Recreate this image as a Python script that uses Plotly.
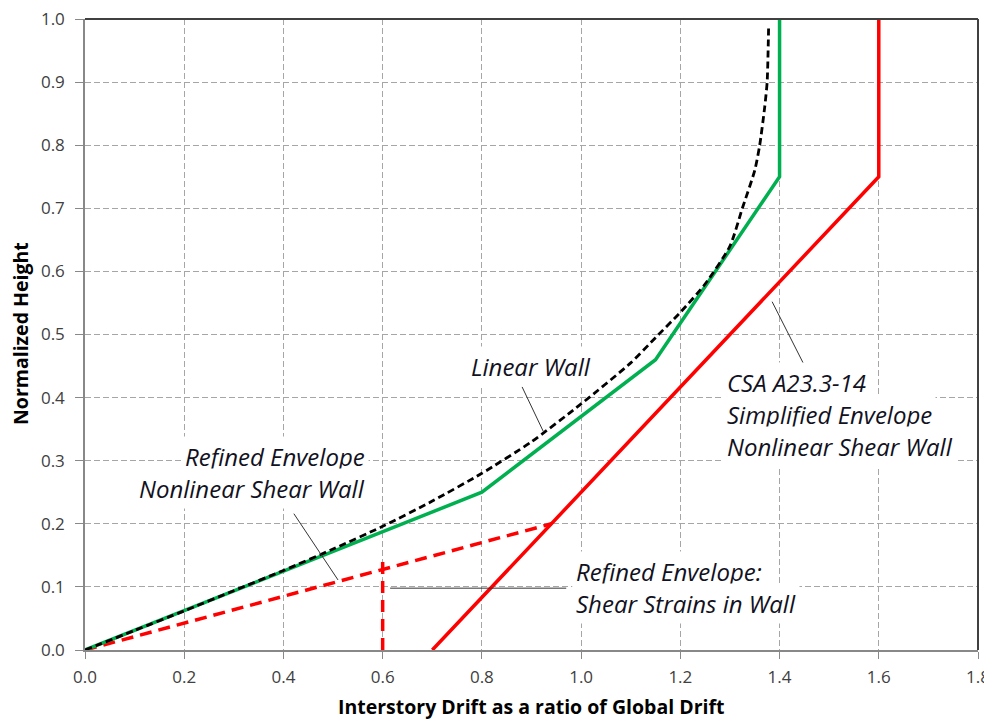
import plotly.graph_objects as go

# ---- data ----
linear_x = [0, 0.1, 0.2, 0.3, 0.4, 0.5, 0.6, 0.7, 0.8, 0.9, 1.0, 1.1, 1.15, 1.2, 1.25, 1.3, 1.325, 1.35, 1.36, 1.37, 1.375, 1.378]
linear_y = [0, 0.031, 0.062, 0.094, 0.126, 0.16, 0.196, 0.236, 0.28, 0.33, 0.39, 0.455, 0.495, 0.535, 0.58, 0.64, 0.70, 0.76, 0.80, 0.86, 0.90, 0.99]

refined_x = [0, 0.8, 1.15, 1.4, 1.4]
refined_y = [0, 0.25, 0.46, 0.75, 1.0]

csa_x = [0.7, 1.6, 1.6]
csa_y = [0, 0.75, 1.0]

shear_x = [0, 0.94]
shear_y = [0, 0.2]
shear_v_x = [0.6, 0.6]
shear_v_y = [0, 0.15]

x_ticks = [0.0, 0.2, 0.4, 0.6, 0.8, 1.0, 1.2, 1.4, 1.6, 1.8]
y_ticks = [0.0, 0.1, 0.2, 0.3, 0.4, 0.5, 0.6, 0.7, 0.8, 0.9, 1.0]

GREEN = "#00B050"
RED = "#FF0000"

fig = go.Figure()
fig.add_trace(go.Scatter(x=shear_x, y=shear_y, mode="lines",
                         line=dict(color=RED, width=3.5, dash="12px,7px")))
fig.add_trace(go.Scatter(x=shear_v_x, y=shear_v_y, mode="lines",
                         line=dict(color=RED, width=3.5, dash="12px,7px")))
fig.add_trace(go.Scatter(x=csa_x, y=csa_y, mode="lines",
                         line=dict(color=RED, width=3.5)))
fig.add_trace(go.Scatter(x=refined_x, y=refined_y, mode="lines",
                         line=dict(color=GREEN, width=3.5)))
fig.add_trace(go.Scatter(x=linear_x, y=linear_y, mode="lines",
                         line=dict(color="black", width=2.8, dash="7px,4px", shape="spline", smoothing=0.6)))

tickfont = dict(family="Open Sans", size=17, color="#404040")
fig.update_xaxes(range=[0, 1.8], tickvals=x_ticks, ticktext=[f"{v:.1f}" for v in x_ticks],
                 showgrid=True, gridcolor="#A6A6A6", griddash="6px,3px", gridwidth=1,
                 showline=True, linecolor="#888888", linewidth=1.5,
                 ticks="outside", ticklen=7, tickcolor="#888888", automargin=False,
                 ticklabeloverflow="allow",
                 ticklabelstandoff=4, tickfont=tickfont, zeroline=False)
fig.update_yaxes(range=[0, 1.0], tickvals=y_ticks, ticktext=[f"{v:.1f}" for v in y_ticks],
                 showgrid=True, gridcolor="#A6A6A6", griddash="6px,3px", gridwidth=1,
                 showline=True, linecolor="#888888", linewidth=1.5,
                 ticks="outside", ticklen=8, tickcolor="#888888", automargin=False,
                 ticklabeloverflow="allow",
                 ticklabelstandoff=7, tickfont=tickfont, zeroline=False)

shapes = [
    dict(type="line", xref="x domain", yref="y domain", x0=0, x1=1, y0=1, y1=1, line=dict(color="#404040", width=2)),
    dict(type="line", xref="x domain", yref="y domain", x0=1, x1=1, y0=0, y1=1, line=dict(color="#404040", width=2)),
    # leader lines
    dict(type="line", xref="x", yref="y", x0=0.881, y0=0.417, x1=0.924, y1=0.346, line=dict(color="#333333", width=1)),
    dict(type="line", xref="x", yref="y", x0=0.421, y0=0.216, x1=0.510, y1=0.111, line=dict(color="#333333", width=1)),
    dict(type="line", xref="x", yref="y", x0=1.385, y0=0.552, x1=1.452, y1=0.448, line=dict(color="#333333", width=1)),
    dict(type="line", xref="x", yref="y", x0=0.615, y0=0.098, x1=0.970, y1=0.098, line=dict(color="#333333", width=1)),
]

afont = dict(family="Open Sans", size=24, color="#111122", style="italic")
annotations = []

def add_lines(lines, x, y_top, xanchor, dy=32):
    for i, t in enumerate(lines):
        annotations.append(dict(text=f"<i>{t}</i>", x=x, y=y_top, xref="x", yref="y",
                                xanchor=xanchor, yanchor="middle", yshift=-i * dy,
                                showarrow=False, font=afont, bgcolor="white", borderpad=3))

add_lines(["Linear Wall"], 0.899, 0.450, "center")
add_lines(["Refined Envelope", "Nonlinear Shear Wall"], 0.573, 0.307, "right")
add_lines(["CSA A23.3-14", "Simplified Envelope", "Nonlinear Shear Wall"], 1.286, 0.424, "left")
add_lines(["Refined Envelope:", "Shear Strains in Wall"], 0.982, 0.125, "left")

# page body has an 8px margin; compensate so the plot sits where the reference does
OFF = 8
W, H = 992 - OFF, 721 - OFF
ml, mr, mt, mb = 85 - OFF, 14, 19 - OFF, 71
pw, ph = W - ml - mr, H - mt - mb

def px_to_paper(px, py):
    fx, fy = px - OFF, py - OFF
    return (fx - ml) / pw, (H - fy - mb) / ph

tx, ty = px_to_paper(531, 706)
annotations.append(dict(text="<b>Interstory Drift as a ratio of Global Drift</b>", x=tx, y=ty,
                        xref="paper", yref="paper", xanchor="center", yanchor="middle", showarrow=False,
                        font=dict(family="Open Sans", size=19.5, color="black")))
tx, ty = px_to_paper(20, 334)
annotations.append(dict(text="<b>Normalized Height</b>", x=tx, y=ty, textangle=-90,
                        xref="paper", yref="paper", xanchor="center", yanchor="middle", showarrow=False,
                        font=dict(family="Open Sans", size=19.5, color="black")))

fig.update_layout(width=W, height=H, margin=dict(l=ml, r=mr, t=mt, b=mb),
                  plot_bgcolor="white", paper_bgcolor="white", showlegend=False,
                  shapes=shapes, annotations=annotations)

fig.write_html("out.html")
